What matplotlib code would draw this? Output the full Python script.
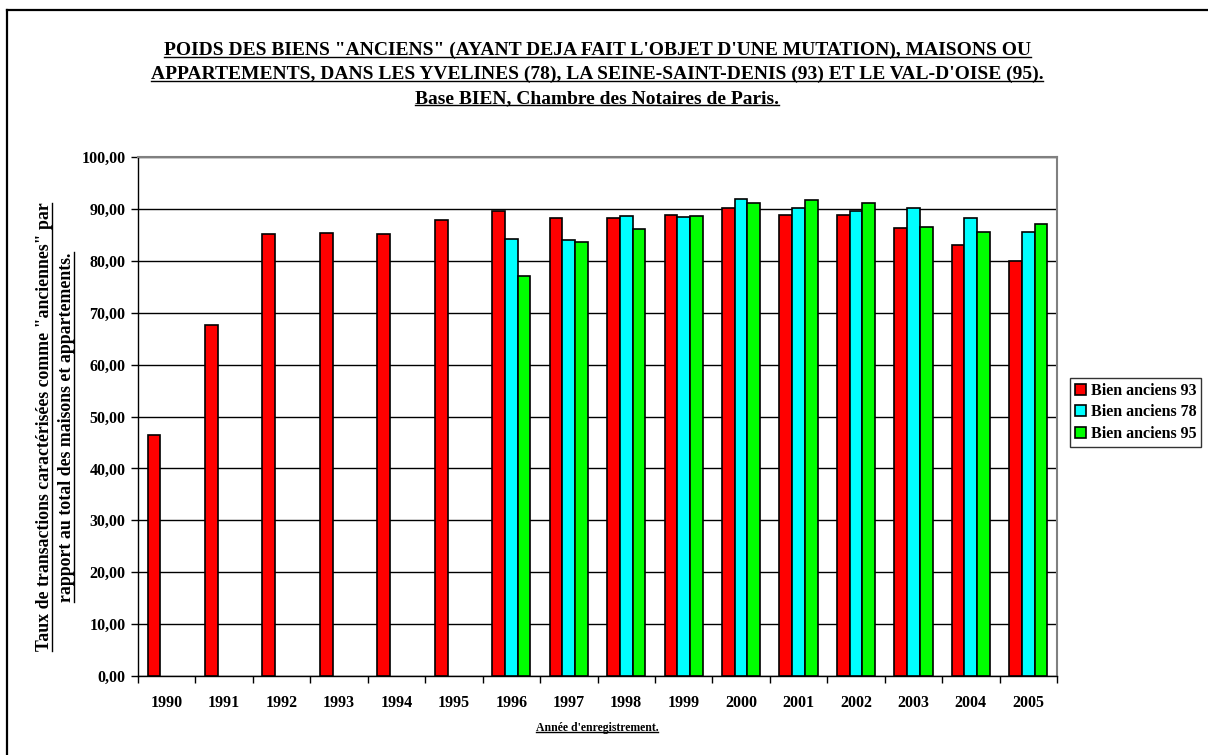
import matplotlib
matplotlib.use("Agg")
import matplotlib.pyplot as plt
from matplotlib.lines import Line2D
import numpy as np

plt.rcParams['font.family'] = ['Liberation Serif', 'DejaVu Serif']
plt.rcParams['font.weight'] = 'bold'

years = ['1990', '1991', '1992', '1993', '1994', '1995', '1996', '1997',
         '1998', '1999', '2000', '2001', '2002', '2003', '2004', '2005']
nan = np.nan
anciens_93 = [46.5, 67.7, 85.1, 85.3, 85.1, 87.9, 89.5, 88.3,
              88.3, 88.9, 90.1, 88.8, 88.8, 86.4, 83.1, 79.9]
anciens_78 = [nan, nan, nan, nan, nan, nan, 84.2, 84.0,
              88.6, 88.4, 91.9, 90.2, 89.6, 90.2, 88.3, 85.6]
anciens_95 = [nan, nan, nan, nan, nan, nan, 77.0, 83.6,
              86.2, 88.7, 91.1, 91.8, 91.2, 86.6, 85.6, 87.1]
series = [('Bien anciens 93', anciens_93, '#ff0000'),
          ('Bien anciens 78', anciens_78, '#00ffff'),
          ('Bien anciens 95', anciens_95, '#00ff00')]

title_lines = [
    'POIDS DES BIENS "ANCIENS" (AYANT DEJA FAIT L\'OBJET D\'UNE MUTATION), MAISONS OU',
    'APPARTEMENTS, DANS LES YVELINES (78), LA SEINE-SAINT-DENIS (93) ET LE VAL-D\'OISE (95).',
    'Base BIEN, Chambre des Notaires de Paris.',
]
ylabel_lines = [
    'Taux de transactions caractérisées comme "anciennes" par',
    'rapport au total des maisons et appartements.',
]
xlabel = "Année d'enregistrement."

W, H = 1208, 755
fig = plt.figure(figsize=(W / 100, H / 100), dpi=100)
ax = fig.add_axes([138 / W, 1 - 676 / H, (1057 - 138) / W, (676 - 157) / H])

x = np.arange(len(years))
w = 1 / 4.5
for i, (name, vals, col) in enumerate(series):
    ax.bar(x + (i - 1) * w, vals, width=w, color=col, edgecolor='black',
           linewidth=1.2, label=name, zorder=3)

ax.set_xlim(-0.5, len(years) - 0.5)
ax.set_ylim(0, 100)
ax.set_yticks(np.arange(0, 101, 10))
ax.set_yticklabels([f'{v:.2f}'.replace('.', ',') for v in np.arange(0, 101, 10)])
ax.set_xticks(x)
ax.set_xticklabels(years)
ax.set_xticks(np.arange(-0.5, len(years)), minor=True)
ax.tick_params(axis='x', which='major', length=0, pad=14, labelsize=11.5)
ax.tick_params(axis='x', which='minor', length=5, width=1, direction='out')
ax.tick_params(axis='y', length=5, width=1, labelsize=11.5, pad=4)
ax.yaxis.grid(True, color='black', linewidth=1, zorder=0)
ax.set_axisbelow(True)
for s in ['top', 'right']:
    ax.spines[s].set_color('#808080')
    ax.spines[s].set_linewidth(1.5)
for s in ['left', 'bottom']:
    ax.spines[s].set_color('black')
    ax.spines[s].set_linewidth(1)

leg = fig.legend(loc='upper left', bbox_to_anchor=(1070 / W, 1 - 378 / H),
                 bbox_transform=fig.transFigure, borderaxespad=0, fontsize=11.5,
                 frameon=True, fancybox=False, edgecolor='black',
                 handlelength=0.7, handleheight=0.7, handletextpad=0.3,
                 labelspacing=0.35, borderpad=0.3)
leg.get_frame().set_linewidth(1)

# texts that need underlining
under = []
for k, line in enumerate(title_lines):
    t = fig.text(597 / W, 1 - (54.5 + 24.3 * k) / H, line, ha='center', va='baseline',
                 fontsize=14, fontweight='bold')
    under.append((t, 'h'))
t = fig.text(597 / W, 1 - 728 / H, xlabel, ha='center', va='center',
             fontsize=8.5, fontweight='bold')
under.append((t, 'h'))
for k, line in enumerate(ylabel_lines):
    t = fig.text((45 + 22 * k) / W, 1 - 427 / H, line, ha='center', va='center',
                 rotation=90, fontsize=12.8, fontweight='bold')
    under.append((t, 'v'))

fig.canvas.draw()
r = fig.canvas.get_renderer()
for t, d in under:
    bb = t.get_window_extent(r)
    if d == 'h':
        yy = (bb.y0 + 2) / H
        fig.add_artist(Line2D([bb.x0 / W, bb.x1 / W], [yy, yy], color='black', lw=1))
    else:
        xx = (bb.x1 - 2) / W
        fig.add_artist(Line2D([xx, xx], [bb.y0 / H, bb.y1 / H], color='black', lw=1))

# outer chart frame (top and left edges visible)
fig.add_artist(Line2D([7 / W, 1], [1 - 10 / H, 1 - 10 / H], color='black', lw=1.6))
fig.add_artist(Line2D([7 / W, 7 / W], [0, 1 - 10 / H], color='black', lw=1.6))

fig.savefig('out.png', dpi=100)
